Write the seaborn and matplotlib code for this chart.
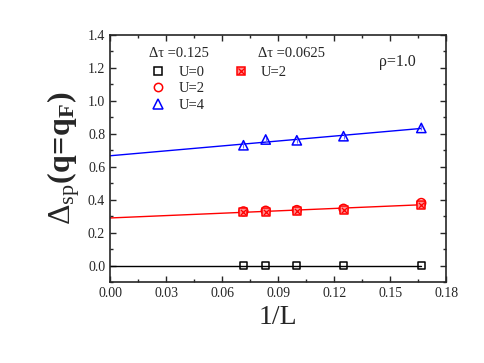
import matplotlib
matplotlib.use('Agg')
import matplotlib.pyplot as plt
from matplotlib.lines import Line2D
from matplotlib.ticker import MultipleLocator
import seaborn as sns
import numpy as np
import pandas as pd

sns.set_style('ticks')
plt.rcParams['font.family'] = ['Liberation Serif', 'DejaVu Serif']
plt.rcParams['mathtext.fontset'] = 'custom'
plt.rcParams['mathtext.rm'] = 'Liberation Serif'
plt.rcParams['mathtext.it'] = 'Liberation Serif:italic'
plt.rcParams['mathtext.bf'] = 'Liberation Serif:bold'

inv_L = [1/14, 1/12, 1/10, 1/8, 1/6]
gap_u0 = [0.0, 0.0, 0.0, 0.0, 0.0]
gap_u2 = [0.329, 0.333, 0.337, 0.345, 0.380]
gap_u4 = [0.730, 0.765, 0.760, 0.785, 0.835]
gap_u2_dt2 = [0.323, 0.328, 0.333, 0.340, 0.366]
err_u4 = [0.018, 0.015, 0.015, 0.015, 0.015]

fit_x = np.array([0.0, 1/6])

df = pd.DataFrame({
    'x': inv_L * 4,
    'y': gap_u0 + gap_u2 + gap_u4 + gap_u2_dt2,
    'set': ['U=0'] * 5 + ['U=2'] * 5 + ['U=4'] * 5 + ['U=2 dt'] * 5,
})

fig = plt.figure(figsize=(4.85, 3.63), dpi=100)
ax = fig.add_axes([0.227, 0.223, 0.693, 0.681])

# linear extrapolation lines
for vals, col in [(gap_u0, 'black'), (gap_u2 + gap_u2_dt2, 'red'), (gap_u4, 'blue')]:
    xs = inv_L * (len(vals) // 5)
    k, b = np.polyfit(xs, vals, 1)
    sns.lineplot(x=fit_x, y=k * fit_x + b, color=col, lw=1.0, ax=ax, zorder=2)

ax.errorbar(inv_L, gap_u4, yerr=err_u4, fmt='none', ecolor='#6a6aff', lw=0.8, zorder=3)

styles = {
    'U=0': dict(marker='s', edgecolor='black', facecolor='none', s=28),
    'U=2': dict(marker='o', edgecolor='red', facecolor='none', s=40),
    'U=4': dict(marker='^', edgecolor='blue', facecolor='none', s=45),
    'U=2 dt': dict(marker='s', edgecolor='red', facecolor='#ff9090', s=28),
}
for name, st in styles.items():
    sub = df[df['set'] == name]
    sns.scatterplot(data=sub, x='x', y='y', ax=ax, linewidth=1.1, zorder=4, legend=False, **st)
sub = df[df['set'] == 'U=2 dt']
sns.scatterplot(data=sub, x='x', y='y', ax=ax, marker='x', color='red', s=14, linewidth=0.9,
                zorder=5, legend=False)

ax.set_xlim(0, 0.18)
ax.set_ylim(-0.1, 1.4)
ax.xaxis.set_minor_locator(MultipleLocator(0.015))
ax.yaxis.set_major_locator(MultipleLocator(0.2))
ax.yaxis.set_minor_locator(MultipleLocator(0.1))
ax.set_xticks(np.arange(0, 0.181, 0.03))
ax.set_xticklabels(['0.00', '0.03', '0.06', '0.09', '0.12', '0.15', '0.18'])
ax.tick_params(which='both', direction='in', top=True, right=True, labelsize=10, width=1.0)
ax.tick_params(which='major', length=4)
ax.tick_params(which='minor', length=2)
for sp in ax.spines.values():
    sp.set_linewidth(1.2)

ax.set_xlabel('1/L', fontsize=20, labelpad=4)
ax.set_ylabel(r'$\Delta_{\mathrm{sp}}\mathbf{(q\!=\!q_F)}$', fontsize=23, labelpad=4)

ax.text(0.115, 0.925, 'Δτ =0.125', transform=ax.transAxes, fontsize=10.5, va='center')
ax.text(0.44, 0.925, 'Δτ =0.0625', transform=ax.transAxes, fontsize=10.5, va='center')
ax.text(0.80, 0.89, 'ρ=1.0', transform=ax.transAxes, fontsize=11.5, va='center')

h_u0 = Line2D([], [], ls='none', marker='s', mec='black', mfc='none', ms=5.5, mew=1.1)
h_u2 = Line2D([], [], ls='none', marker='o', mec='red', mfc='none', ms=6, mew=1.1)
h_u4 = Line2D([], [], ls='none', marker='^', mec='blue', mfc='none', ms=7, mew=1.1)
h_dt_sq = Line2D([], [], ls='none', marker='s', mec='red', mfc='#ff9090', ms=5.5, mew=1.1)
h_dt_x = Line2D([], [], ls='none', marker='x', mec='red', ms=4, mew=0.9)
blank = Line2D([], [], ls='none')
leg = ax.legend([h_u0, h_u2, h_u4, (h_dt_sq, h_dt_x), blank, blank],
                ['U=0', 'U=2', 'U=4', 'U=2', '', ''],
                ncol=2, loc='upper left', bbox_to_anchor=(0.09, 0.90), frameon=False,
                fontsize=10.5, handlelength=1.6, handletextpad=0.6, columnspacing=1.7,
                labelspacing=0.25, borderaxespad=0)

fig.savefig('out.png', dpi=100)
